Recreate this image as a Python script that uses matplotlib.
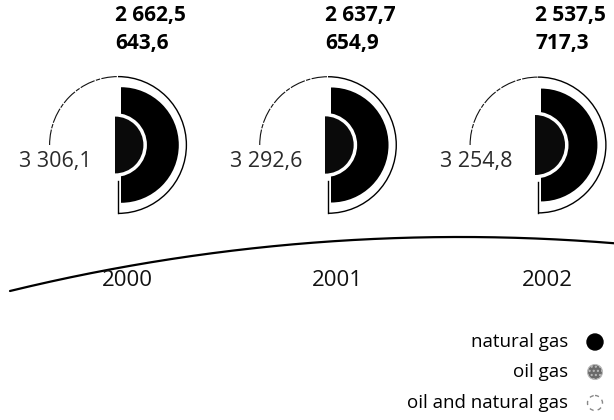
import numpy as np
import matplotlib
matplotlib.use("Agg")
import matplotlib.pyplot as plt
from matplotlib.patches import Wedge, Arc, Circle

plt.rcParams['font.family'] = ['Open Sans', 'DejaVu Sans']

years = ['2000', '2001', '2002']
natural_gas = [2662.5, 2637.7, 2537.5]
oil_gas = [643.6, 654.9, 717.3]
oil_and_natural_gas = [3306.1, 3292.6, 3254.8]
legend_labels = ['natural gas', 'oil gas', 'oil and natural gas']


def fmt(v):
    s = f"{v:,.1f}"
    return s.replace(',', ' ').replace('.', ',')


fig = plt.figure(figsize=(6.14, 4.2), dpi=100)
ax = fig.add_axes([0, 0, 1, 1])
ax.set_xlim(0, 614)
ax.set_ylim(420, 0)
ax.axis('off')

k = 1.12          # radius scale: area proportional to value
cy = 145
x0, dx = 118, 210
outline_gap = 4
rim = 3.5

for i, yr in enumerate(years):
    cx = x0 + i * dx
    R = k * np.sqrt(oil_and_natural_gas[i]) + outline_gap
    rb = k * np.sqrt(natural_gas[i])
    ri = k * np.sqrt(oil_gas[i])

    # total (oil and natural gas) outline
    ax.add_patch(Arc((cx, cy), 2 * R, 2 * R, theta1=180, theta2=270,
                     color='#111111', lw=0.8, linestyle=(0, (14, 1.2, 4, 1.2))))
    ax.add_patch(Arc((cx, cy), 2 * R, 2 * R, theta1=-90, theta2=90,
                     color='black', lw=1.0))
    ax.plot([cx, cx], [cy + R, cy + ri + rim + 4], color='black', lw=1.0)

    # natural gas half disk
    ax.add_patch(Wedge((cx + 3, cy), rb, -90, 90, facecolor='black',
                       edgecolor='none'))
    # oil gas half disk with white rim
    ax.add_patch(Wedge((cx - 3, cy), ri + rim, -90, 90, facecolor='white',
                       edgecolor='none'))
    ax.add_patch(Wedge((cx - 3, cy), ri, -90, 90, facecolor='#0a0a0a',
                       edgecolor='none'))

    # labels
    ax.text(cx - 3, 15, fmt(natural_gas[i]), fontsize=15, fontweight='bold',
            ha='left', va='center', color='black')
    ax.text(cx - 3, 43, fmt(oil_gas[i]), fontsize=15, fontweight='bold',
            ha='left', va='center', color='black')
    ax.text(cx - 26, 161, fmt(oil_and_natural_gas[i]), fontsize=15.5,
            ha='right', va='center', color='#2a2a2a')
    ax.text(cx + 9, 281, yr, fontsize=16, ha='center', va='center',
            color='#111111')

# decorative baseline arc
Rb = 1902
xs = np.linspace(10, 614, 300)
ys = 237 + Rb - np.sqrt(Rb ** 2 - (xs - 460) ** 2)
ax.plot(xs, ys, color='black', lw=1.6, solid_capstyle='round')

# legend
ly = [342, 372, 403]
lx_text, lx_mark = 568, 595
for yv, lab in zip(ly, legend_labels):
    ax.text(lx_text, yv, lab, fontsize=13.5, ha='right', va='center')
ax.add_patch(Circle((lx_mark, ly[0]), 8, facecolor='black', edgecolor='black'))
ax.add_patch(Circle((lx_mark, ly[1]), 7.5, facecolor='#6a6a6a', edgecolor='#bbbbbb',
                    hatch='....', lw=0.8))
ax.add_patch(Circle((lx_mark, ly[2]), 7.5, facecolor='none', edgecolor='#888888',
                    lw=1.0, linestyle=(0, (3, 3))))

fig.savefig('out.png', dpi=100, facecolor='white')
